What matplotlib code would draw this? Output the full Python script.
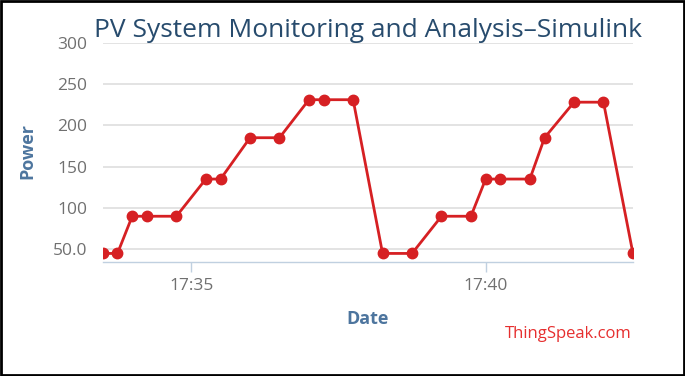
import datetime as dt
import matplotlib
matplotlib.use("Agg")
import matplotlib.pyplot as plt
import matplotlib.dates as mdates
from matplotlib.patches import Rectangle

times = ["17:33:30", "17:33:45", "17:34:00", "17:34:15", "17:34:45", "17:35:15",
         "17:35:30", "17:36:00", "17:36:30", "17:37:00", "17:37:15", "17:37:45",
         "17:38:15", "17:38:45", "17:39:15", "17:39:45", "17:40:00", "17:40:15",
         "17:40:45", "17:41:00", "17:41:30", "17:42:00", "17:42:30"]
power = [45, 45, 90, 90, 90, 135, 135, 185, 185, 231, 231, 231,
         45, 45, 90, 90, 135, 135, 135, 185, 228, 228, 45]
y_ticks = [50, 100, 150, 200, 250, 300]
y_tick_labels = ["50.0", "100", "150", "200", "250", "300"]
x_ticks = ["17:35:00", "17:40:00"]

plt.rcParams['font.family'] = ['Open Sans', 'DejaVu Sans']

day = "2020-01-01 "
x = [dt.datetime.fromisoformat(day + t) for t in times]
xt = [dt.datetime.fromisoformat(day + t) for t in x_ticks]

fig = plt.figure(figsize=(6.85, 3.76), dpi=100)
ax = fig.add_axes([0.150, 0.304, 0.774, 0.5825])

ax.plot(x, power, color="#d62023", lw=2, marker="o", markersize=7.5, zorder=3)

ax.set_xlim(x[0], x[-1])
ax.set_ylim(35, 300)
ax.set_yticks(y_ticks)
ax.set_yticklabels(y_tick_labels)
ax.set_xticks(xt)
ax.xaxis.set_major_formatter(mdates.DateFormatter("%H:%M"))

ax.grid(axis="y", color="#e0e0e0", lw=1.3)
ax.set_axisbelow(True)
for s in ["top", "right", "left"]:
    ax.spines[s].set_visible(False)
ax.spines["bottom"].set_color("#c0d0e0")
ax.spines["bottom"].set_linewidth(1)
ax.tick_params(axis="y", length=0, pad=11, labelsize=12.5, labelcolor="#707070")
ax.tick_params(axis="x", length=7, width=1, color="#c0d0e0", pad=5,
               labelsize=12.5, labelcolor="#707070")

ax.set_title("PV System Monitoring and Analysis\u2013Simulink", fontsize=19,
             color="#274b6d", pad=4)
ax.set_ylabel("Power", fontsize=13, fontweight="bold", color="#4d759e")
ax.yaxis.set_label_coords(-0.143, 0.505)
ax.yaxis.label.set_ha("center")
ax.yaxis.label.set_va("center")
ax.set_xlabel("Date", fontsize=13, fontweight="bold", color="#4d759e")
ax.xaxis.set_label_coords(0.5, -0.262)
ax.xaxis.label.set_va("center")

fig.text(0.922, 0.112, "ThingSpeak.com", ha="right", va="center",
         fontsize=12, color="#e62f2f")

fig.patches.append(Rectangle((0.002, 0.003), 0.996, 0.994, transform=fig.transFigure,
                             fill=False, edgecolor="black", lw=2))

fig.savefig("out.png", dpi=100)
